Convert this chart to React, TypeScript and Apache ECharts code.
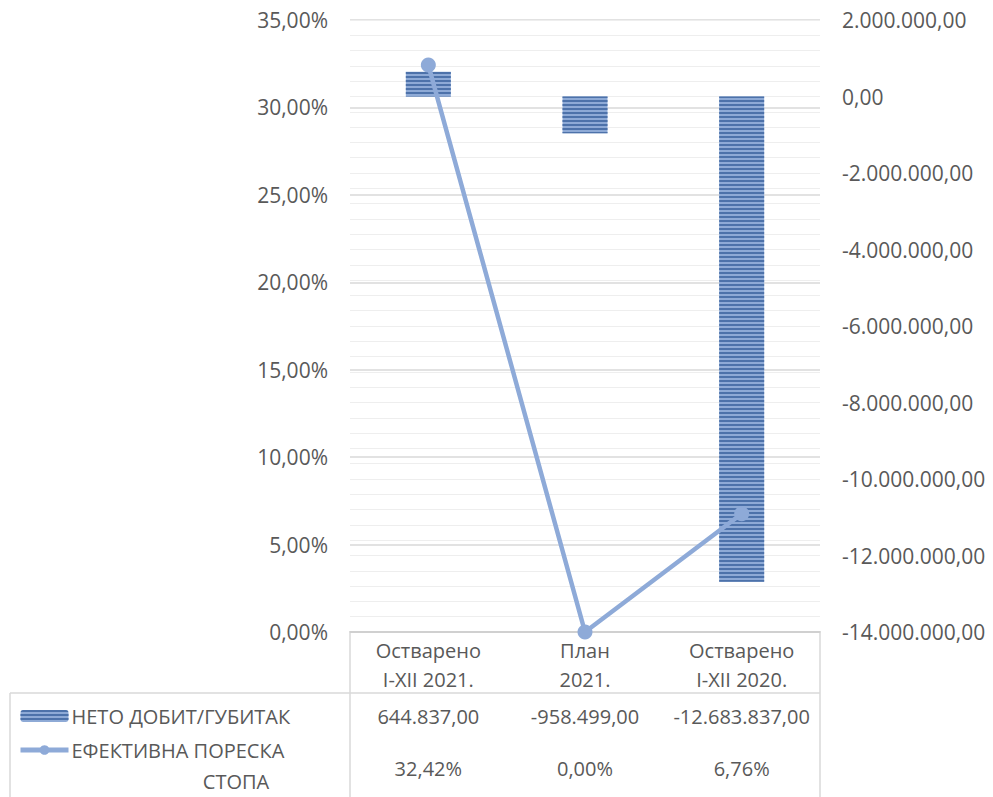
import React, { useEffect, useRef } from "react";
import * as echarts from "echarts";

const categories = ["Остварено\nI-XII 2021.", "План\n2021.", "Остварено\nI-XII 2020."];
const netProfit = [644837, -958499, -12683837];
const taxRate = [32.42, 0, 6.76];
const barName = "НЕТО ДОБИТ/ГУБИТАК";
const lineName = "ЕФЕКТИВНА ПОРЕСКА СТОПА";
const leftAxis = { min: 0, max: 35, interval: 5 };
const rightAxis = { min: -14000000, max: 2000000, interval: 2000000 };

const FONT = "'Open Sans', sans-serif";
const TXT = "#595959";

function fmtNum(v: number): string {
  const sign = v < 0 ? "-" : "";
  const [i, d] = Math.abs(v).toFixed(2).split(".");
  return sign + i.replace(/\B(?=(\d{3})+(?!\d))/g, ".") + "," + d;
}
function fmtPct(v: number): string {
  return v.toFixed(2).replace(".", ",") + "%";
}

export default function App() {
  const ref = useRef<HTMLDivElement>(null);
  useEffect(() => {
    const chart = echarts.init(ref.current!, null, { renderer: "svg" });
    const option: any = {
      animation: false,
      textStyle: { fontFamily: FONT },
      grid: { left: 350, right: 173, top: 20, bottom: 165 },
      legend: {
        orient: "vertical",
        left: 18,
        top: 704,
        padding: 0,
        itemWidth: 48,
        itemHeight: 12,
        itemGap: 10,
        textStyle: { color: TXT, fontSize: 20, fontFamily: FONT, lineHeight: 24, padding: [0, 0, 0, -2] },
        data: [
          { name: barName },
          { name: lineName, lineStyle: { width: 5, color: "#8eaad8" }, itemStyle: { color: "#8eaad8" } },
        ],
        formatter: (n: string) => (n === lineName ? "ЕФЕКТИВНА ПОРЕСКА" : n),
      },
      xAxis: {
        type: "category",
        data: categories,
        axisLine: { show: true, lineStyle: { color: "#d0d0d0", width: 2 } },
        axisTick: { show: false },
        axisLabel: { color: TXT, fontSize: 20, fontFamily: FONT, lineHeight: 29, margin: 4 },
      },
      yAxis: [
        {
          type: "value",
          min: leftAxis.min,
          max: leftAxis.max,
          interval: leftAxis.interval,
          axisLine: { show: false },
          axisTick: { show: false },
          axisLabel: { color: TXT, fontSize: 21, fontFamily: FONT, margin: 22, formatter: (v: number) => fmtPct(v) },
          splitLine: { show: true, lineStyle: { color: "#d9d9d9", width: 1.5 } },
        },
        {
          type: "value",
          position: "right",
          min: rightAxis.min,
          max: rightAxis.max,
          interval: rightAxis.interval,
          axisLine: { show: false },
          axisTick: { show: false },
          minorTick: { show: false, splitNumber: 5 },
          minorSplitLine: { show: true, lineStyle: { color: "#eeeeee", width: 1 } },
          axisLabel: { color: TXT, fontSize: 21, fontFamily: FONT, margin: 22, formatter: (v: number) => fmtNum(v) },
          splitLine: { show: true, lineStyle: { color: "#eeeeee", width: 1 } },
        },
      ],
      series: [
        {
          name: barName,
          type: "bar",
          yAxisIndex: 1,
          barWidth: 45,
          data: netProfit,
          itemStyle: {
            color: "#8eaad6",
            decal: {
              symbol: "rect",
              symbolSize: 1,
              dashArrayX: [[1, 0]],
              dashArrayY: [1.5, 1.5],
              color: "#4d72aa",
              rotation: 0,
            },
          },
          z: 2,
        },
        {
          name: lineName,
          type: "line",
          yAxisIndex: 0,
          data: taxRate,
          symbol: "circle",
          symbolSize: 15,
          lineStyle: { color: "#8eaad8", width: 4.5 },
          itemStyle: { color: "#8eaad8" },
          z: 3,
        },
      ],
    };
    chart.setOption(option);

    const xs = categories.map((c) => chart.convertToPixel({ xAxisIndex: 0 }, c) as number);
    const border = { stroke: "#d9d9d9", lineWidth: 1.5 };
    const graphic: any[] = [
      { type: "line", shape: { x1: 10, y1: 693, x2: 820, y2: 693 }, style: border },
      { type: "line", shape: { x1: 10, y1: 693, x2: 10, y2: 797 }, style: border },
      { type: "line", shape: { x1: 350, y1: 633, x2: 350, y2: 797 }, style: border },
      { type: "line", shape: { x1: 820, y1: 633, x2: 820, y2: 797 }, style: border },
      {
        type: "text",
        x: 236,
        y: 781,
        style: { text: "СТОПА", fill: TXT, font: `20px ${FONT}`, align: "center", verticalAlign: "middle" },
      },
    ];
    netProfit.forEach((v, i) => {
      graphic.push({
        type: "text",
        x: xs[i],
        y: 716,
        style: { text: fmtNum(v), fill: TXT, font: `20px ${FONT}`, align: "center", verticalAlign: "middle" },
      });
    });
    taxRate.forEach((v, i) => {
      graphic.push({
        type: "text",
        x: xs[i],
        y: 768,
        style: { text: fmtPct(v), fill: TXT, font: `20px ${FONT}`, align: "center", verticalAlign: "middle" },
      });
    });
    chart.setOption({ graphic });

    return () => chart.dispose();
  }, []);
  return (
    <div
      ref={ref}
      style={{ position: "fixed", left: 0, top: 0, width: 993, height: 797, background: "#fff" }}
    />
  );
}
